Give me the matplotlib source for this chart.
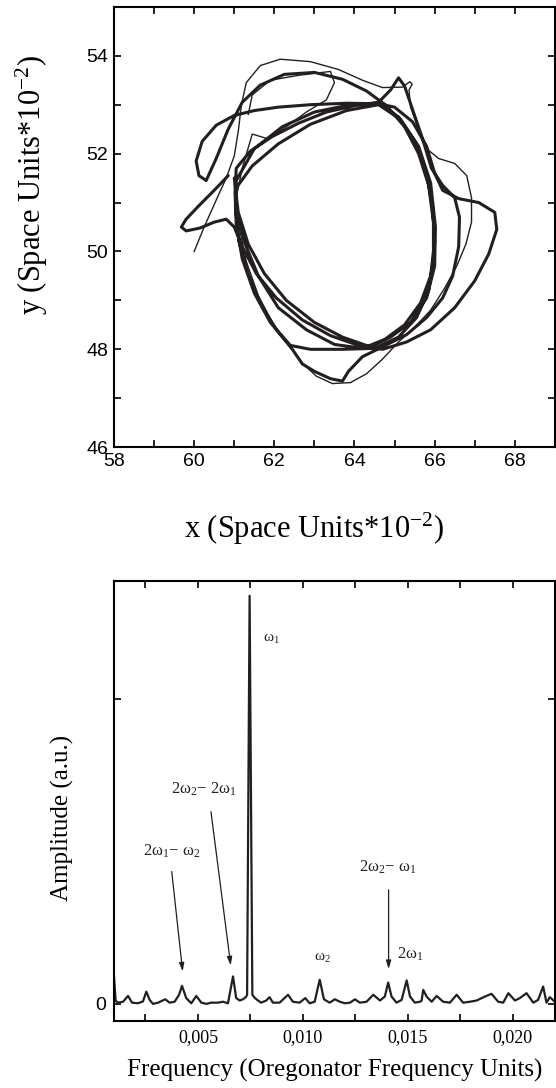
import numpy as np
import matplotlib
matplotlib.use("Agg")
import matplotlib.pyplot as plt
from matplotlib.ticker import MultipleLocator, FixedLocator, NullFormatter, FuncFormatter

plt.rcParams['mathtext.fontset'] = 'custom'
plt.rcParams['mathtext.rm'] = 'Liberation Serif'
plt.rcParams['mathtext.it'] = 'Liberation Serif:italic'

INK = '#231f20'

# ---------------- top panel: tip trajectory ----------------
orbit_thick = [
    (60.85, 51.55), (60.50, 51.25), (60.10, 50.92), (59.80, 50.66), (59.68, 50.50), (59.80, 50.42),
    (60.15, 50.48), (60.50, 50.60), (60.80, 50.66), (61.00, 50.50),
    (61.20, 50.10), (61.55, 49.55), (62.05, 49.05), (62.70, 48.60), (63.40, 48.28), (64.10, 48.08), (64.70, 48.00),
    (65.30, 48.15), (65.90, 48.40), (66.50, 48.85), (67.00, 49.40), (67.35, 49.95), (67.55, 50.45), (67.50, 50.80),
    (67.10, 51.00), (66.60, 51.08), (66.20, 51.25), (66.00, 51.60), (65.80, 52.15), (65.45, 52.65), (65.00, 52.95),
    (64.60, 53.02),
    (63.80, 53.03), (62.90, 53.00), (62.10, 52.95), (61.50, 52.88), (61.00, 52.78), (60.55, 52.58), (60.20, 52.25),
    (60.05, 51.85), (60.12, 51.55), (60.30, 51.45),
    (60.55, 51.90), (60.85, 52.50), (61.20, 53.05), (61.65, 53.40), (62.25, 53.62), (63.00, 53.66), (63.70, 53.52),
    (64.30, 53.28), (64.80, 52.98),
    (65.25, 52.55), (65.60, 52.00), (65.85, 51.35), (65.97, 50.60), (65.97, 49.85), (65.85, 49.20), (65.55, 48.65),
    (65.10, 48.25), (64.50, 48.02),
    (63.70, 48.00), (62.90, 48.00), (62.40, 48.08), (61.90, 48.55), (61.50, 49.15), (61.20, 49.85), (61.05, 50.55),
    (61.02, 51.20), (61.05, 51.70),
    (61.40, 52.05), (61.95, 52.35), (62.60, 52.62), (63.30, 52.85), (64.00, 52.98), (64.60, 53.05),
    (64.90, 53.30), (65.10, 53.55), (65.25, 53.38), (65.45, 52.90), (65.70, 52.30), (65.92, 51.70), (66.20, 51.35),
    (66.50, 51.10), (66.62, 50.70), (66.60, 50.10), (66.45, 49.50), (66.20, 49.05), (65.80, 48.65), (65.30, 48.30),
    (64.70, 48.05),
    (64.20, 47.85), (63.85, 47.55), (63.70, 47.35), (63.40, 47.40), (63.00, 47.55), (62.70, 47.70), (62.45, 48.00),
    (62.05, 48.40), (61.65, 48.95), (61.35, 49.55), (61.12, 50.20), (61.03, 50.90), (61.05, 51.45),
    (61.50, 52.10), (62.20, 52.55), (63.00, 52.85), (63.90, 53.00), (64.60, 53.03), (65.10, 52.75), (65.50, 52.25),
    (65.80, 51.60), (65.95, 50.90), (66.00, 50.20), (65.90, 49.50), (65.65, 48.95), (65.25, 48.50), (64.75, 48.20),
    (64.20, 48.02), (63.50, 48.10), (62.80, 48.40), (62.10, 48.85), (61.60, 49.50), (61.25, 50.20), (61.05, 50.90),
    (61.05, 51.30), (61.45, 51.75), (62.10, 52.20), (62.90, 52.60), (63.80, 52.88), (64.60, 53.00), (65.15, 52.70),
    (65.60, 52.15), (65.90, 51.40), (66.02, 50.50), (66.00, 49.70), (65.80, 49.05), (65.40, 48.55), (64.90, 48.25),
    (64.40, 48.05), (63.70, 48.25), (63.00, 48.55), (62.30, 49.00), (61.75, 49.55), (61.35, 50.15), (61.10, 50.80),
    (61.00, 51.50),
]
orbit_thin = [
    (60.00, 50.00), (60.25, 50.50), (60.55, 51.05), (60.80, 51.50), (61.00, 51.95), (61.10, 52.45), (61.18, 53.00),
    (61.30, 53.45), (61.65, 53.80), (62.15, 53.93), (62.90, 53.88), (63.60, 53.72), (64.20, 53.50), (64.70, 53.35),
    (65.20, 53.36), (65.38, 53.47), (65.44, 53.42), (65.36, 53.30), (65.40, 52.95),
    (65.55, 52.60), (65.80, 52.10), (66.10, 51.90), (66.50, 51.80), (66.80, 51.55), (66.92, 51.10), (66.92, 50.60),
    (66.78, 50.15), (66.55, 49.70), (66.25, 49.25), (65.90, 48.80), (65.50, 48.45), (65.10, 48.15), (64.70, 47.80),
    (64.30, 47.50), (63.90, 47.32), (63.45, 47.30), (63.05, 47.45), (62.70, 47.72), (62.35, 48.10), (61.95, 48.55),
    (61.60, 49.10), (61.30, 49.80), (61.12, 50.50), (61.05, 51.10), (61.20, 51.70), (61.45, 52.40), (61.85, 52.30),
    (62.30, 52.55), (62.80, 52.85), (63.30, 53.10), (63.50, 53.45), (63.40, 53.68), (62.60, 53.60), (61.90, 53.50),
    (61.45, 53.20), (61.35, 52.80),
]

# ---------------- bottom panel: amplitude spectrum ----------------
freq = [0.00100, 0.00108, 0.00119, 0.00143, 0.00167, 0.00186, 0.00214, 0.00238, 0.00254, 0.00270,
        0.00286, 0.00310, 0.00344, 0.00365, 0.00389, 0.00410, 0.00424, 0.00444, 0.00468, 0.00492,
        0.00516, 0.00540, 0.00563, 0.00595, 0.00619, 0.00643, 0.00656, 0.00667, 0.00682, 0.00699,
        0.00714, 0.00728, 0.00734, 0.00746, 0.00759, 0.00770, 0.00782, 0.00801, 0.00825, 0.00841,
        0.00857, 0.00889, 0.00929, 0.00952, 0.00984, 0.01011, 0.01032, 0.01056, 0.01070, 0.01080,
        0.01100, 0.01127, 0.01152, 0.01176, 0.01200, 0.01224, 0.01248, 0.01271, 0.01303, 0.01335,
        0.01367, 0.01390, 0.01406, 0.01422, 0.01446, 0.01470, 0.01484, 0.01494, 0.01510, 0.01533,
        0.01557, 0.01565, 0.01573, 0.01589, 0.01613, 0.01637, 0.01668, 0.01700, 0.01732, 0.01763,
        0.01795, 0.01827, 0.01867, 0.01898, 0.01930, 0.01954, 0.01978, 0.02010, 0.02033, 0.02065,
        0.02097, 0.02120, 0.02144, 0.02160, 0.02176, 0.02200]
amplitude = [0.090, 0.010, 0.004, 0.007, 0.026, 0.004, 0.002, 0.008, 0.040, 0.013,
             0.000, 0.004, 0.015, 0.004, 0.007, 0.030, 0.059, 0.019, 0.002, 0.026,
             0.004, 0.000, 0.004, 0.004, 0.007, 0.002, 0.050, 0.090, 0.019, 0.011,
             0.015, 0.022, 0.030, 1.338, 0.030, 0.020, 0.013, 0.004, 0.011, 0.022,
             0.004, 0.004, 0.030, 0.007, 0.004, 0.019, 0.002, 0.007, 0.050, 0.079,
             0.015, 0.004, 0.015, 0.007, 0.002, 0.004, 0.015, 0.004, 0.007, 0.030,
             0.011, 0.024, 0.070, 0.024, 0.004, 0.013, 0.050, 0.077, 0.024, 0.004,
             0.007, 0.010, 0.046, 0.024, 0.007, 0.026, 0.007, 0.004, 0.030, 0.004,
             0.007, 0.011, 0.024, 0.033, 0.007, 0.004, 0.035, 0.011, 0.019, 0.035,
             0.004, 0.013, 0.057, 0.004, 0.022, 0.007]

peak_labels = [r'ω$_{1}$', r'2ω$_{2}$$-$ 2ω$_{1}$', r'2ω$_{1}$$-$ ω$_{2}$', r'ω$_{2}$', r'2ω$_{2}$$-$ ω$_{1}$', r'2ω$_{1}$']
label_pos = [(0.00810, 1.187), (0.00371, 0.689), (0.00238, 0.485), (0.01052, 0.141), (0.01267, 0.433), (0.01448, 0.148)]
arrow_from = [(0.00375, 0.434), (0.00562, 0.630), (0.01408, 0.374)]
arrow_to = [(0.00427, 0.106), (0.00656, 0.126), (0.01408, 0.114)]

fig = plt.figure(figsize=(5.56, 10.88), dpi=100)

# ---- top panel
ax1 = fig.add_axes([0.205, 0.589, 0.793, 0.4047])
tx, ty = zip(*orbit_thick)
ax1.plot(tx, ty, color=INK, lw=2.2, solid_joinstyle='round', solid_capstyle='round')
nx, ny = zip(*orbit_thin)
ax1.plot(nx, ny, color=INK, lw=1.0, solid_joinstyle='round')
ax1.set_xlim(58, 69)
ax1.set_ylim(46, 55)
ax1.xaxis.set_major_locator(MultipleLocator(2))
ax1.xaxis.set_minor_locator(MultipleLocator(1))
ax1.yaxis.set_major_locator(MultipleLocator(2))
ax1.yaxis.set_minor_locator(MultipleLocator(1))
ax1.tick_params(which='both', direction='in', top=True, right=True, length=5, width=1.2,
                labelsize=14, pad=4)
for lab in ax1.get_xticklabels() + ax1.get_yticklabels():
    lab.set_fontfamily('Liberation Sans')
for s in ax1.spines.values():
    s.set_linewidth(1.5)
ax1.set_xlabel(r'x (Space Units*10$^{-2}$)', fontsize=22, family='Liberation Serif')
ax1.set_ylabel(r'y (Space Units*10$^{-2}$)', fontsize=22, family='Liberation Serif')
ax1.xaxis.set_label_coords(0.453, -0.145)
ax1.yaxis.set_label_coords(-0.145, 0.595)

# ---- bottom panel
ax2 = fig.add_axes([0.205, 0.0619, 0.793, 0.4045])
ax2.plot(freq, amplitude, color=INK, lw=1.6, solid_joinstyle='round')
ax2.set_xlim(0.001, 0.022)
ax2.set_ylim(-0.055, 1.388)
ax2.xaxis.set_major_locator(MultipleLocator(0.005))
ax2.xaxis.set_minor_locator(MultipleLocator(0.0025))
ax2.xaxis.set_major_formatter(FuncFormatter(lambda v, p: ('%.3f' % v).replace('.', ',')))
ax2.yaxis.set_major_locator(FixedLocator([0, 1]))
ax2.yaxis.set_major_formatter(FuncFormatter(lambda v, p: '0' if abs(v) < 1e-9 else ''))
ax2.tick_params(which='both', direction='in', top=True, right=True, length=5, width=1.2, pad=6)
ax2.tick_params(axis='x', labelsize=13)
ax2.tick_params(axis='y', labelsize=14)
for lab in ax2.get_xticklabels():
    lab.set_fontfamily('Liberation Serif')
for lab in ax2.get_yticklabels():
    lab.set_fontfamily('Liberation Sans')
for s in ax2.spines.values():
    s.set_linewidth(1.5)
ax2.set_xlabel('Frequency (Oregonator Frequency Units)', fontsize=18, family='Liberation Serif')
ax2.set_ylabel('Amplitude (a.u.)', fontsize=18, family='Liberation Serif')
ax2.xaxis.set_label_coords(0.501, -0.088)
ax2.yaxis.set_label_coords(-0.09, 0.46)

for txt, (px, py) in zip(peak_labels, label_pos):
    fs = 11 if txt in (r'ω$_{1}$', r'ω$_{2}$') else 12
    ax2.text(px, py, txt, fontsize=fs, family='Liberation Serif', ha='left', va='baseline', color=INK)
for (x0, y0), (x1, y1) in zip(arrow_from, arrow_to):
    ax2.annotate('', xy=(x1, y1), xytext=(x0, y0),
                 arrowprops=dict(arrowstyle='-|>,head_length=0.5,head_width=0.15', color=INK, lw=0.9,
                                 shrinkA=0, shrinkB=0))

fig.savefig('out.png', dpi=100)
